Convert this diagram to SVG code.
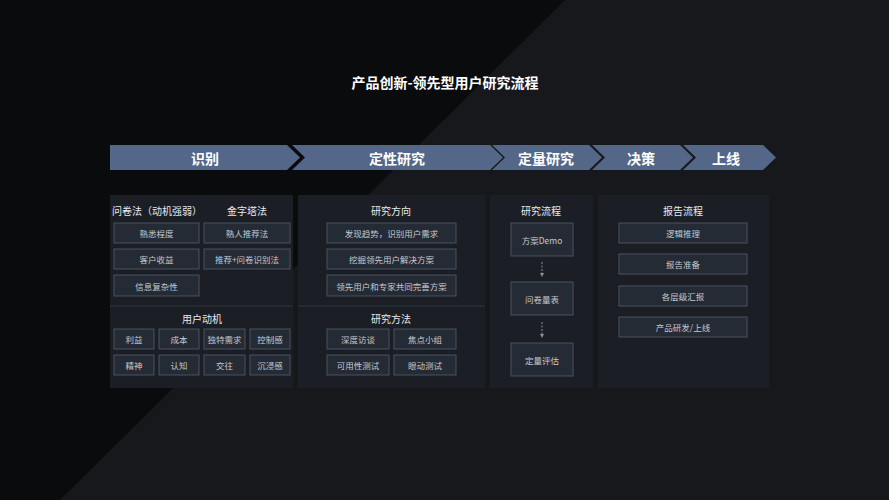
<svg xmlns="http://www.w3.org/2000/svg" width="889" height="500" viewBox="0 0 889 500">
<style>
text{font-family:"Noto Sans CJK SC","Noto Sans",sans-serif;fill:#e6e8ec;text-anchor:middle;dominant-baseline:central}
.chev{fill:#556788}
.ct{font-size:14px;font-weight:bold;fill:#fff}
.panel{fill:#1b1e24}
.h{font-size:10px;fill:#e8eaee}
.b{fill:#252b34;stroke:#4a525e;stroke-width:1}
.bt{font-size:8.5px;fill:#c4c9d1}
.div{stroke:#30343c;stroke-width:1}
.con{stroke:#8a909a;stroke-width:1;stroke-dasharray:2 1.5;fill:none}
</style>
<defs><marker id="ah" markerWidth="4" markerHeight="4" refX="2" refY="2" orient="auto"><path d="M0,0L4,2L0,4z" fill="#8a909a"/></marker></defs>
<rect width="889" height="500" fill="#0a0b0d"/>
<polygon points="565,0 889,0 889,500 60,500" fill="#16181c"/>
<text x="445" y="82" style="font-size:14px;font-weight:bold;fill:#fff">产品创新-领先型用户研究流程</text>
<g id="chevrons">
<polygon class="chev" points="110,145 287,145 300,157.5 287,170 110,170"/>
<polygon class="chev" points="292,145 490,145 503,157.5 490,170 292,170 305,157.5"/>
<polygon class="chev" points="492,145 589,145 602,157.5 589,170 492,170 505,157.5"/>
<polygon class="chev" points="592,145 680,145 693,157.5 680,170 592,170 605,157.5"/>
<polygon class="chev" points="683,145 763,145 776,157.5 763,170 683,170 696,157.5"/>
<text class="ct" x="205" y="157.5">识别</text>
<text class="ct" x="397" y="157.5">定性研究</text>
<text class="ct" x="546" y="157.5">定量研究</text>
<text class="ct" x="641" y="157.5">决策</text>
<text class="ct" x="726" y="157.5">上线</text>
</g>
<g id="panel1">
<rect class="panel" x="110" y="195" width="183" height="193"/>
<line class="div" x1="110" y1="306" x2="293" y2="306"/>
<text class="h" x="157" y="210">问卷法（动机强弱）</text>
<text class="h" x="247" y="210">金字塔法</text>
<rect class="b" x="114" y="223" width="85" height="20"/><text class="bt" x="156.5" y="233">熟悉程度</text>
<rect class="b" x="204" y="223" width="86" height="20"/><text class="bt" x="247" y="233">熟人推荐法</text>
<rect class="b" x="114" y="249" width="85" height="20"/><text class="bt" x="156.5" y="259">客户收益</text>
<rect class="b" x="204" y="249" width="86" height="20"/><text class="bt" x="247" y="259">推荐+问卷识别法</text>
<rect class="b" x="114" y="275" width="85" height="21"/><text class="bt" x="156.5" y="285.5">信息复杂性</text>
<text class="h" x="202" y="318">用户动机</text>
<rect class="b" x="114" y="329" width="40" height="20"/><text class="bt" x="134" y="339">利益</text>
<rect class="b" x="159" y="329" width="40" height="20"/><text class="bt" x="179" y="339">成本</text>
<rect class="b" x="204" y="329" width="41" height="20"/><text class="bt" x="224.5" y="339">独特需求</text>
<rect class="b" x="250" y="329" width="40" height="20"/><text class="bt" x="270" y="339">控制感</text>
<rect class="b" x="114" y="355" width="40" height="20"/><text class="bt" x="134" y="365">精神</text>
<rect class="b" x="159" y="355" width="40" height="20"/><text class="bt" x="179" y="365">认知</text>
<rect class="b" x="204" y="355" width="41" height="20"/><text class="bt" x="224.5" y="365">交往</text>
<rect class="b" x="250" y="355" width="40" height="20"/><text class="bt" x="270" y="365">沉浸感</text>
</g>
<g id="panel2">
<rect class="panel" x="298" y="195" width="187" height="193"/>
<line class="div" x1="298" y1="306" x2="485" y2="306"/>
<text class="h" x="391" y="210">研究方向</text>
<rect class="b" x="327" y="223" width="129" height="20"/><text class="bt" x="391.5" y="233">发现趋势，识别用户需求</text>
<rect class="b" x="327" y="249" width="129" height="20"/><text class="bt" x="391.5" y="259">挖掘领先用户解决方案</text>
<rect class="b" x="327" y="275" width="129" height="21"/><text class="bt" x="391.5" y="285.5">领先用户和专家共同完善方案</text>
<text class="h" x="391" y="318">研究方法</text>
<rect class="b" x="327" y="329" width="62" height="20"/><text class="bt" x="358" y="339">深度访谈</text>
<rect class="b" x="394" y="329" width="62" height="20"/><text class="bt" x="425" y="339">焦点小组</text>
<rect class="b" x="327" y="355" width="62" height="20"/><text class="bt" x="358" y="365">可用性测试</text>
<rect class="b" x="394" y="355" width="62" height="20"/><text class="bt" x="425" y="365">眼动测试</text>
</g>
<g id="panel3">
<rect class="panel" x="490" y="195" width="103" height="193"/>
<text class="h" x="541" y="210">研究流程</text>
<rect class="b" x="511" y="223" width="62" height="33"/><text class="bt" x="542" y="239.5">方案Demo</text>
<rect class="b" x="511" y="282" width="62" height="33"/><text class="bt" x="542" y="298.5">问卷量表</text>
<rect class="b" x="511" y="343" width="62" height="33"/><text class="bt" x="542" y="359.5">定量评估</text>
</g>
<g id="panel4">
<rect class="panel" x="598" y="195" width="171" height="193"/>
<text class="h" x="683" y="210">报告流程</text>
<rect class="b" x="619" y="223" width="128" height="20"/><text class="bt" x="683" y="233">逻辑推理</text>
<rect class="b" x="619" y="254" width="128" height="20"/><text class="bt" x="683" y="264">报告准备</text>
<rect class="b" x="619" y="286" width="128" height="20"/><text class="bt" x="683" y="296">各层级汇报</text>
<rect class="b" x="619" y="317" width="128" height="20"/><text class="bt" x="683" y="327">产品研发/上线</text>
</g>
<g id="connectors">
<line class="con" x1="542" y1="262" x2="542" y2="275" marker-end="url(#ah)"/>
<line class="con" x1="542" y1="322" x2="542" y2="336" marker-end="url(#ah)"/>
</g>
</svg>
